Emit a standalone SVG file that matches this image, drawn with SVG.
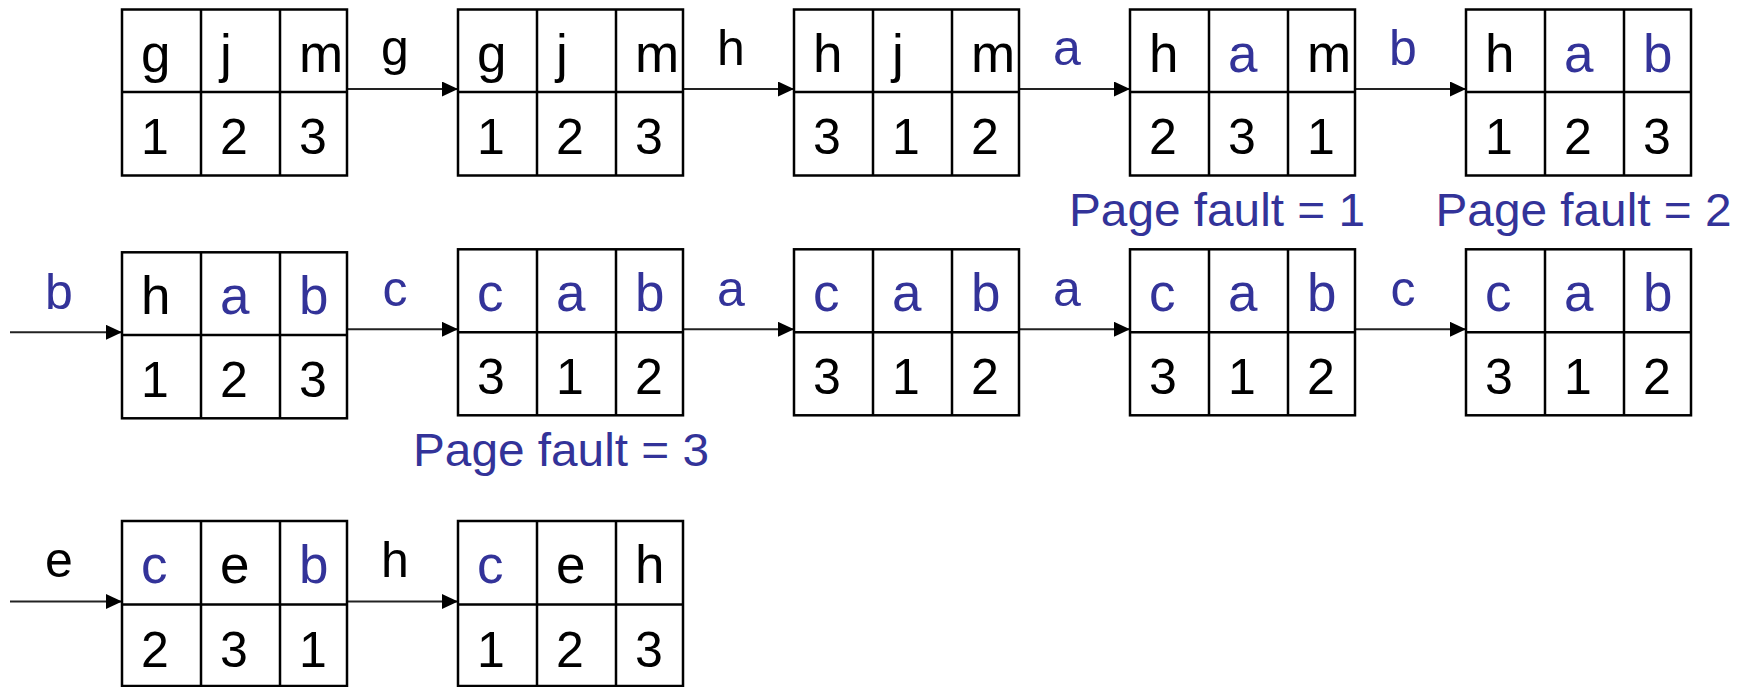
<svg xmlns="http://www.w3.org/2000/svg" width="1749" height="687" viewBox="0 0 1749 687">
<defs>
<style>
.box{fill:#fff;stroke:#000;stroke-width:2.5}
.ln{fill:none;stroke:#000;stroke-width:2.5}
text{font-family:"Liberation Sans",Arial,sans-serif;fill:#000}
.t{font-size:53px}
.d{font-size:50px}
.bl{fill:#333399}
.lbl{font-size:50px;text-anchor:middle}
.pf{font-size:46px;fill:#333399}
.conn{stroke:#222;stroke-width:2;fill:none;marker-end:url(#ah)}
</style>
<marker id="ah" viewBox="0 0 16 15" refX="16" refY="7.5" markerWidth="16" markerHeight="15" markerUnits="userSpaceOnUse" orient="auto">
<path d="M0 0L16 7.5L0 15Z" fill="#000"/>
</marker>
</defs>

<g id="connectors">
<line class="conn" x1="348" y1="89" x2="458" y2="89"/>
<line class="conn" x1="684" y1="89" x2="794" y2="89"/>
<line class="conn" x1="1020" y1="89" x2="1130" y2="89"/>
<line class="conn" x1="1356" y1="89" x2="1466" y2="89"/>
<line class="conn" x1="10" y1="332.3" x2="122" y2="332.3"/>
<line class="conn" x1="348" y1="329.3" x2="458" y2="329.3"/>
<line class="conn" x1="684" y1="329.3" x2="794" y2="329.3"/>
<line class="conn" x1="1020" y1="329.3" x2="1130" y2="329.3"/>
<line class="conn" x1="1356" y1="329.3" x2="1466" y2="329.3"/>
<line class="conn" x1="10" y1="601.5" x2="122" y2="601.5"/>
<line class="conn" x1="348" y1="601.5" x2="458" y2="601.5"/>
</g>

<g id="connector-labels">
<text class="lbl" x="395" y="65">g</text>
<text class="lbl" x="731" y="65">h</text>
<text class="lbl bl" x="1067" y="65">a</text>
<text class="lbl bl" x="1403" y="65">b</text>
<text class="lbl bl" x="59" y="308.5">b</text>
<text class="lbl bl" x="395" y="305.5">c</text>
<text class="lbl bl" x="731" y="305.5">a</text>
<text class="lbl bl" x="1067" y="305.5">a</text>
<text class="lbl bl" x="1403" y="305.5">c</text>
<text class="lbl" x="59" y="577">e</text>
<text class="lbl" x="395" y="577">h</text>
</g>

<g id="r1b1" transform="translate(122,9.5)">
<rect class="box" width="225" height="166"/><path class="ln" d="M79 0V166M158 0V166M0 82.5H225"/>
<text class="t" x="19" y="62">g</text><text class="t" x="98" y="62">j</text><text class="t" x="177" y="62">m</text>
<text class="d" x="19" y="144.5">1</text><text class="d" x="98" y="144.5">2</text><text class="d" x="177" y="144.5">3</text>
</g>
<g id="r1b2" transform="translate(458,9.5)">
<rect class="box" width="225" height="166"/><path class="ln" d="M79 0V166M158 0V166M0 82.5H225"/>
<text class="t" x="19" y="62">g</text><text class="t" x="98" y="62">j</text><text class="t" x="177" y="62">m</text>
<text class="d" x="19" y="144.5">1</text><text class="d" x="98" y="144.5">2</text><text class="d" x="177" y="144.5">3</text>
</g>
<g id="r1b3" transform="translate(794,9.5)">
<rect class="box" width="225" height="166"/><path class="ln" d="M79 0V166M158 0V166M0 82.5H225"/>
<text class="t" x="19" y="62">h</text><text class="t" x="98" y="62">j</text><text class="t" x="177" y="62">m</text>
<text class="d" x="19" y="144.5">3</text><text class="d" x="98" y="144.5">1</text><text class="d" x="177" y="144.5">2</text>
</g>
<g id="r1b4" transform="translate(1130,9.5)">
<rect class="box" width="225" height="166"/><path class="ln" d="M79 0V166M158 0V166M0 82.5H225"/>
<text class="t" x="19" y="62">h</text><text class="t bl" x="98" y="62">a</text><text class="t" x="177" y="62">m</text>
<text class="d" x="19" y="144.5">2</text><text class="d" x="98" y="144.5">3</text><text class="d" x="177" y="144.5">1</text>
</g>
<g id="r1b5" transform="translate(1466,9.5)">
<rect class="box" width="225" height="166"/><path class="ln" d="M79 0V166M158 0V166M0 82.5H225"/>
<text class="t" x="19" y="62">h</text><text class="t bl" x="98" y="62">a</text><text class="t bl" x="177" y="62">b</text>
<text class="d" x="19" y="144.5">1</text><text class="d" x="98" y="144.5">2</text><text class="d" x="177" y="144.5">3</text>
</g>

<g id="r2b1" transform="translate(122,252.3)">
<rect class="box" width="225" height="166"/><path class="ln" d="M79 0V166M158 0V166M0 82.7H225"/>
<text class="t" x="19" y="62">h</text><text class="t bl" x="98" y="62">a</text><text class="t bl" x="177" y="62">b</text>
<text class="d" x="19" y="144.5">1</text><text class="d" x="98" y="144.5">2</text><text class="d" x="177" y="144.5">3</text>
</g>
<g id="r2b2" transform="translate(458,249.3)">
<rect class="box" width="225" height="166"/><path class="ln" d="M79 0V166M158 0V166M0 83H225"/>
<text class="t bl" x="19" y="62">c</text><text class="t bl" x="98" y="62">a</text><text class="t bl" x="177" y="62">b</text>
<text class="d" x="19" y="144.5">3</text><text class="d" x="98" y="144.5">1</text><text class="d" x="177" y="144.5">2</text>
</g>
<g id="r2b3" transform="translate(794,249.3)">
<rect class="box" width="225" height="166"/><path class="ln" d="M79 0V166M158 0V166M0 83H225"/>
<text class="t bl" x="19" y="62">c</text><text class="t bl" x="98" y="62">a</text><text class="t bl" x="177" y="62">b</text>
<text class="d" x="19" y="144.5">3</text><text class="d" x="98" y="144.5">1</text><text class="d" x="177" y="144.5">2</text>
</g>
<g id="r2b4" transform="translate(1130,249.3)">
<rect class="box" width="225" height="166"/><path class="ln" d="M79 0V166M158 0V166M0 83H225"/>
<text class="t bl" x="19" y="62">c</text><text class="t bl" x="98" y="62">a</text><text class="t bl" x="177" y="62">b</text>
<text class="d" x="19" y="144.5">3</text><text class="d" x="98" y="144.5">1</text><text class="d" x="177" y="144.5">2</text>
</g>
<g id="r2b5" transform="translate(1466,249.3)">
<rect class="box" width="225" height="166"/><path class="ln" d="M79 0V166M158 0V166M0 83H225"/>
<text class="t bl" x="19" y="62">c</text><text class="t bl" x="98" y="62">a</text><text class="t bl" x="177" y="62">b</text>
<text class="d" x="19" y="144.5">3</text><text class="d" x="98" y="144.5">1</text><text class="d" x="177" y="144.5">2</text>
</g>

<g id="r3b1" transform="translate(122,521)">
<rect class="box" width="225" height="165"/><path class="ln" d="M79 0V165M158 0V165M0 83.5H225"/>
<text class="t bl" x="19" y="62">c</text><text class="t" x="98" y="62">e</text><text class="t bl" x="177" y="62">b</text>
<text class="d" x="19" y="146">2</text><text class="d" x="98" y="146">3</text><text class="d" x="177" y="146">1</text>
</g>
<g id="r3b2" transform="translate(458,521)">
<rect class="box" width="225" height="165"/><path class="ln" d="M79 0V165M158 0V165M0 83.5H225"/>
<text class="t bl" x="19" y="62">c</text><text class="t" x="98" y="62">e</text><text class="t" x="177" y="62">h</text>
<text class="d" x="19" y="146">1</text><text class="d" x="98" y="146">2</text><text class="d" x="177" y="146">3</text>
</g>

<g id="page-faults">
<text class="pf" x="1069" y="225.5" textLength="296" lengthAdjust="spacingAndGlyphs">Page fault = 1</text>
<text class="pf" x="1435.5" y="225.5" textLength="296" lengthAdjust="spacingAndGlyphs">Page fault = 2</text>
<text class="pf" x="413" y="466" textLength="296" lengthAdjust="spacingAndGlyphs">Page fault = 3</text>
</g>
</svg>
